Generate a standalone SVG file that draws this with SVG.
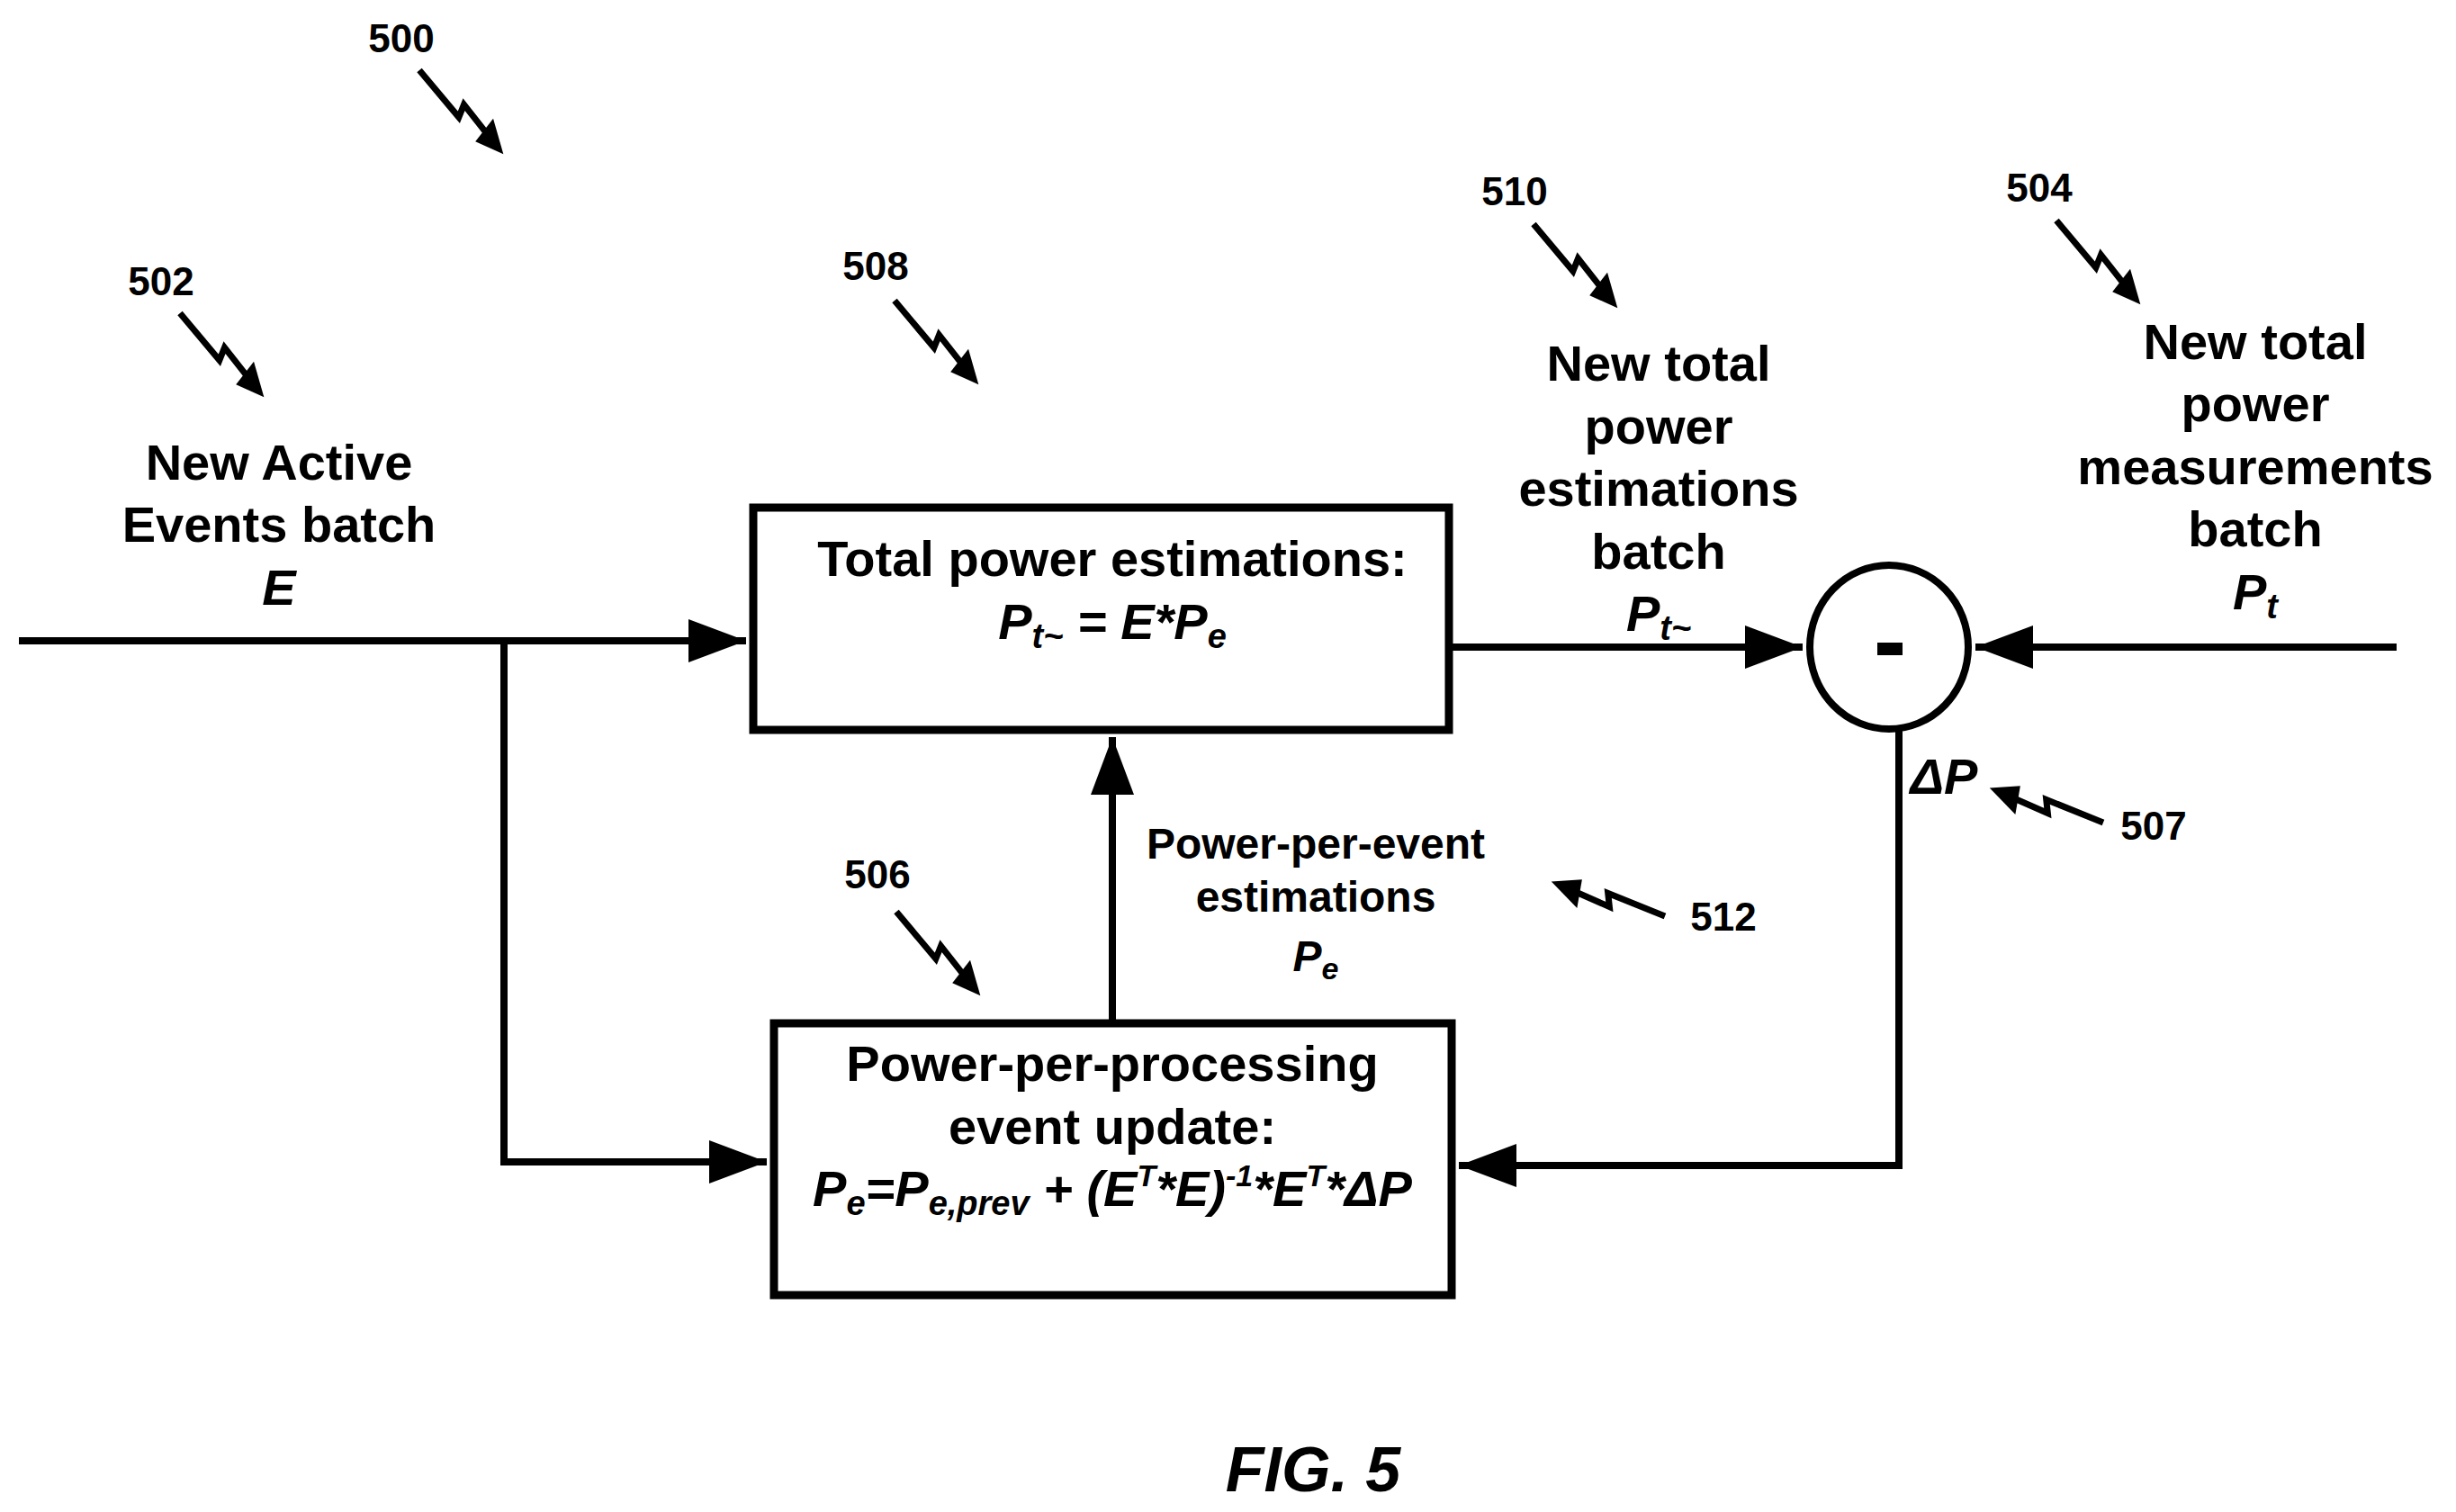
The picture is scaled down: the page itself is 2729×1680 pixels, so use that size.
<svg xmlns="http://www.w3.org/2000/svg" width="2729" height="1680" viewBox="0 0 2729 1680">
<style>
.t{font-family:"Liberation Sans Narrow","Liberation Sans",Arial,sans-serif;font-weight:bold;fill:#000;text-anchor:middle}
.m{font-size:56px}.s{font-size:48px}.r{font-size:44px}
.i{font-style:italic}
.ln{stroke:#000;stroke-width:8;fill:none}
.bx{stroke:#000;stroke-width:9;fill:#fff}
</style>
<defs>
<marker id="ah" markerWidth="8" markerHeight="6" refX="8" refY="3" orient="auto" markerUnits="strokeWidth"><path d="M0,0 L8,3 L0,6 z" fill="#000"/></marker>
<g id="sq">
<path d="M0 0 L68 6 L62 -8 L104 -3" fill="none" stroke="#000" stroke-width="7" stroke-linejoin="miter"/>
<path d="M132 0 L96 -20 L100 12 z" fill="#000"/>
</g>
</defs>
<rect width="2729" height="1680" fill="#fff"/>
<g id="connectors">
<path class="ln" d="M21 712 H829" marker-end="url(#ah)"/>
<path class="ln" d="M560 712 V1291 H852" marker-end="url(#ah)"/>
<path class="ln" d="M1610 719 H2003" marker-end="url(#ah)"/>
<path class="ln" d="M2663 719 H2195" marker-end="url(#ah)"/>
<path class="ln" d="M2110 811 V1295 H1621" marker-end="url(#ah)"/>
<path class="ln" d="M1236 1137 V819" marker-end="url(#ah)"/>
</g>
<g id="ref-arrows">
<use href="#sq" transform="translate(466,78) rotate(45)"/>
<use href="#sq" transform="translate(200,348) rotate(45)"/>
<use href="#sq" transform="translate(994,334) rotate(45)"/>
<use href="#sq" transform="translate(1704,249) rotate(45)"/>
<use href="#sq" transform="translate(2285,245) rotate(45)"/>
<use href="#sq" transform="translate(996,1013) rotate(45)"/>
<use href="#sq" transform="translate(1850,1018) rotate(197)"/>
<use href="#sq" transform="translate(2337,914) rotate(197)"/>
</g>
<g id="labels-ref">
<text class="t r" x="446" y="58">500</text>
<text class="t r" x="179" y="328">502</text>
<text class="t r" x="973" y="311">508</text>
<text class="t r" x="1683" y="228">510</text>
<text class="t r" x="2266" y="224">504</text>
<text class="t r" x="975" y="987">506</text>
<text class="t r" x="1915" y="1034">512</text>
<text class="t r" x="2393" y="933">507</text>
</g>
<g id="input-E">
<text class="t m" x="310" y="533">New Active</text>
<text class="t m" x="310" y="602">Events batch</text>
<text class="t m i" x="310" y="672">E</text>
</g>
<g id="total-est">
<rect class="bx" x="837" y="564" width="773" height="247"/>
<text class="t m" x="1236" y="640">Total power estimations:</text>
<text class="t m i" x="1236" y="710">P<tspan font-size="38" dy="10">t~</tspan><tspan dy="-10"> = E*P</tspan><tspan font-size="38" dy="10">e</tspan></text>
</g>
<g id="est-batch">
<text class="t m" x="1843" y="423">New total</text>
<text class="t m" x="1843" y="493">power</text>
<text class="t m" x="1843" y="562">estimations</text>
<text class="t m" x="1843" y="632">batch</text>
<text class="t m i" x="1843" y="701">P<tspan font-size="38" dy="10">t~</tspan></text>
</g>
<g id="meas-batch">
<text class="t m" x="2506" y="399">New total</text>
<text class="t m" x="2506" y="468">power</text>
<text class="t m" x="2506" y="538">measurements</text>
<text class="t m" x="2506" y="607">batch</text>
<text class="t m i" x="2506" y="677">P<tspan font-size="38" dy="10">t</tspan></text>
</g>
<g id="sum">
<ellipse cx="2099" cy="719" rx="88" ry="91" fill="#fff" stroke="#000" stroke-width="8"/>
<rect x="2086" y="714" width="28" height="14" fill="#000"/>
</g>
<g id="deltaP">
<text class="t m i" x="2160" y="882">ΔP</text>
</g>
<g id="pe-label">
<text class="t s" x="1462" y="954">Power-per-event</text>
<text class="t s" x="1462" y="1013">estimations</text>
<text class="t s i" x="1462" y="1079">P<tspan font-size="34" dy="9">e</tspan></text>
</g>
<g id="update">
<rect class="bx" x="860" y="1137" width="753" height="302"/>
<text class="t m" x="1236" y="1201">Power-per-processing</text>
<text class="t m" x="1236" y="1271">event update:</text>
<text class="t m i" x="1236" y="1340">P<tspan font-size="38" dy="10">e</tspan><tspan dy="-10">=P</tspan><tspan font-size="38" dy="10">e,prev</tspan><tspan dy="-10"> + (E</tspan><tspan font-size="34" dy="-22">T</tspan><tspan dy="22">*E)</tspan><tspan font-size="34" dy="-22">-1</tspan><tspan dy="22">*E</tspan><tspan font-size="34" dy="-22">T</tspan><tspan dy="22">*ΔP</tspan></text>
</g>
<g id="caption">
<text class="t i" font-size="70" x="1459" y="1657">FIG. 5</text>
</g>
</svg>
